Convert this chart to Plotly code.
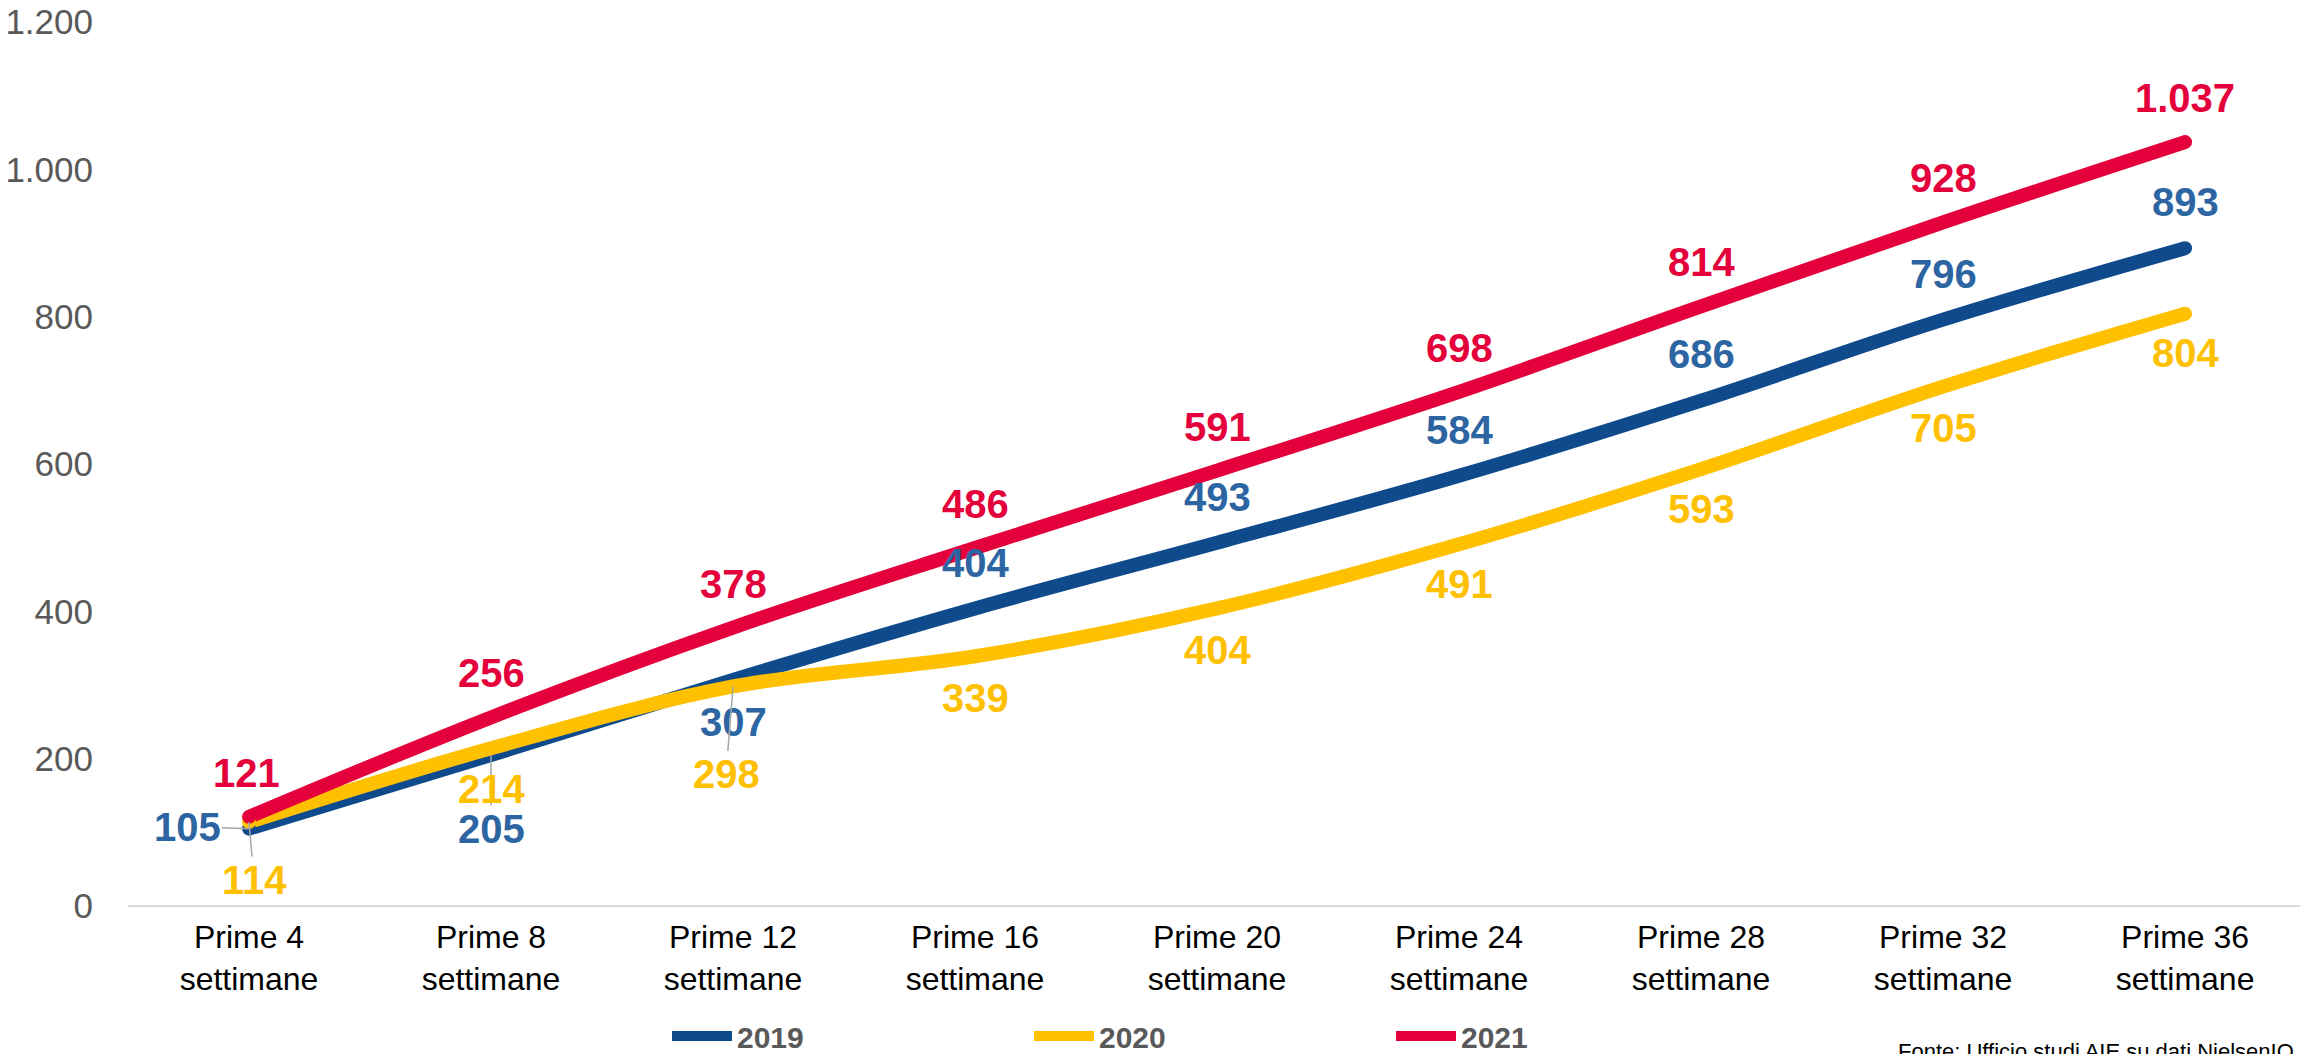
import plotly.graph_objects as go

# ---------------- data ----------------
categories = ["Prime 4<br>settimane", "Prime 8<br>settimane", "Prime 12<br>settimane",
              "Prime 16<br>settimane", "Prime 20<br>settimane", "Prime 24<br>settimane",
              "Prime 28<br>settimane", "Prime 32<br>settimane", "Prime 36<br>settimane"]
years = ["2019", "2020", "2021"]
v2019 = [105, 205, 307, 404, 493, 584, 686, 796, 893]
v2020 = [114, 214, 298, 339, 404, 491, 593, 705, 804]
v2021 = [121, 256, 378, 486, 591, 698, 814, 928, 1037]
y_ticks = [0, 200, 400, 600, 800, 1000, 1200]
y_tick_labels = ["0", "200", "400", "600", "800", "1.000", "1.200"]
source_text = "Fonte: Ufficio studi AIE su dati NielsenIQ"

# ---------------- styles ----------------
FONT = "Liberation Sans, Arial, sans-serif"
line_colors = {"2019": "#0E4A8C", "2020": "#FFC000", "2021": "#E4003B"}
label_colors = {"2019": "#2C65A2", "2020": "#FFC000", "2021": "#E4003B"}
LW = 14

# label offsets in px: (dx, dy_up, leader)
offsets = {
    "2019": [(-62, 2, True), (0, -74, True), (0, -42, False), (0, 45, False), (0, 46, False),
             (0, 46, False), (0, 47, False), (0, 46, False), (0, 46, False)],
    "2020": [(5, -58, True), (0, -41, False), (-7, -88, True), (0, -42, False), (0, -42, False),
             (0, -40, False), (0, -40, False), (0, -41, False), (0, -39, False)],
    "2021": [(-3, 44, False), (0, 44, False), (0, 44, False), (0, 44, False), (0, 44, False),
             (0, 44, False), (0, 44, False), (0, 44, False), (0, 44, False)],
}

series = {"2019": v2019, "2020": v2020, "2021": v2021}

def fmt(v):
    return f"{v:,}".replace(",", ".")

fig = go.Figure()
for yr in years:
    vals = series[yr]
    fig.add_trace(go.Scatter(
        x=categories, y=vals, name=yr, mode="lines",
        line=dict(color=line_colors[yr], width=LW, shape="spline", smoothing=1.0),
        hoverinfo="skip",
    ))
# round caps at the line ends
for yr in years:
    vals = series[yr]
    fig.add_trace(go.Scatter(
        x=[categories[0], categories[-1]], y=[vals[0], vals[-1]], mode="markers",
        marker=dict(color=line_colors[yr], size=LW, line=dict(width=0)),
        showlegend=False, hoverinfo="skip",
    ))

annotations = []
for yr in years:
    vals = series[yr]
    for i, v in enumerate(vals):
        dx, dy, leader = offsets[yr][i]
        base = dict(x=categories[i], y=v, xref="x", yref="y", text=fmt(v),
                    font=dict(family=FONT, size=40, color=label_colors[yr], weight="bold"))
        if leader:
            base.update(showarrow=True, ax=dx, ay=-dy, arrowhead=0, arrowwidth=1.5,
                        arrowcolor="#A6A6A6", standoff=0, startstandoff=0)
        else:
            base.update(showarrow=False, xshift=dx, yshift=dy)
        annotations.append(base)

annotations.append(dict(
    text=source_text, xref="paper", yref="paper", x=1, y=-0.148, xanchor="right",
    yanchor="top", xshift=-4, showarrow=False,
    font=dict(family=FONT, size=22, color="#000000"),
))

fig.update_layout(
    width=2300, height=1054,
    margin=dict(l=128, r=0, t=22, b=148),
    paper_bgcolor="white", plot_bgcolor="white",
    separators=",.",
    showlegend=True,
    legend=dict(
        orientation="h", xref="container", yref="container",
        x=0.290, xanchor="left", y=0.017, yanchor="middle",
        font=dict(family=FONT, size=30, color="#595959", weight="bold"),
        itemwidth=60, entrywidth=287, entrywidthmode="pixels",
        traceorder="normal", bgcolor="rgba(0,0,0,0)",
    ),
    annotations=annotations,
    xaxis=dict(
        type="category", range=[-0.5, 8.475], showgrid=False, zeroline=False,
        showline=False, ticks="", ticklabelstandoff=9,
        tickfont=dict(family=FONT, size=32, color="#000000"),
    ),
    yaxis=dict(
        range=[0, 1200], tickvals=y_ticks, ticktext=y_tick_labels,
        showgrid=False, zeroline=True, zerolinecolor="#D9D9D9", zerolinewidth=2,
        showline=False, ticks="", ticklabelstandoff=34,
        tickfont=dict(family=FONT, size=35, color="#595959"),
    ),
)

fig.write_html("out.html", config={"displayModeBar": False},
               post_script="document.body.style.margin='0';document.body.style.overflow='hidden';")
